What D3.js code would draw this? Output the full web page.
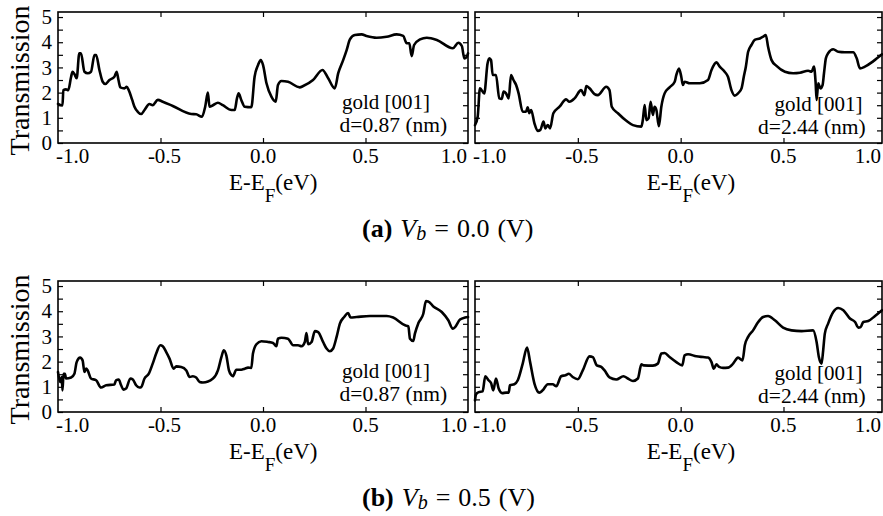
<!DOCTYPE html>
<html>
<head>
<meta charset="utf-8">
<script src="https://cdn.jsdelivr.net/npm/d3@7"></script>
<style>
html,body{margin:0;padding:0;background:#fff;}
svg{display:block;}
svg text{font-family:"Liberation Serif","DejaVu Serif","Times New Roman",serif;fill:#000;}
</style>
</head>
<body>
<svg id="chart" width="883" height="516"></svg>
<script>
// ---------------- DATA ----------------
const energyTicks = [-1.0, -0.5, 0.0, 0.5, 1.0];
const energyTickLabels = ["-1.0", "-0.5", "0.0", "0.5", "1.0"];
const transTicks = [0, 0.5, 1, 1.5, 2, 2.5, 3, 3.5, 4, 4.5, 5];
const transTickLabels = ["0", "", "1", "", "2", "", "3", "", "4", "", "5"];
const materialLabel = "gold [001]";
const distanceLabels = ["d=0.87 (nm)", "d=2.44 (nm)"];
const captionTags = ["(a)", "(b)"];
const biasValues = ["0.0", "0.5"];
const yTitle = "Transmission";

// Vb = 0.0 V, d = 0.87 nm  [E-EF (eV), T]
const t_vb0_d087 = [
[-1.0,1.55],[-0.985,1.5],[-0.978,1.5],[-0.974,2.1],[-0.961,2.13],[-0.950,2.1],[-0.936,2.63],[-0.929,2.83],
[-0.920,2.74],[-0.909,2.57],[-0.896,3.56],[-0.888,3.56],[-0.871,2.83],[-0.855,2.77],[-0.839,2.83],[-0.822,3.49],
[-0.814,3.49],[-0.798,2.9],[-0.782,2.43],[-0.769,2.34],[-0.749,2.5],[-0.725,2.63],[-0.714,2.83],[-0.705,2.5],
[-0.696,2.21],[-0.676,2.17],[-0.665,2.23],[-0.655,2.1],[-0.638,1.71],[-0.627,1.44],[-0.611,1.24],[-0.594,1.15],
[-0.578,1.31],[-0.554,1.55],[-0.538,1.5],[-0.513,1.71],[-0.489,1.64],[-0.440,1.47],[-0.350,1.15],[-0.326,1.14],
[-0.298,1.04],[-0.282,1.44],[-0.269,2.0],[-0.261,1.44],[-0.244,1.5],[-0.220,1.6],[-0.196,1.5],[-0.154,1.31],
[-0.138,1.31],[-0.127,1.77],[-0.119,1.97],[-0.106,1.71],[-0.089,1.44],[-0.057,1.42],[-0.041,2.63],[-0.024,3.1],
[-0.011,3.29],[0.0,3.1],[0.017,2.37],[0.041,1.84],[0.062,1.64],[0.073,2.3],[0.090,2.46],[0.122,2.43],
[0.179,2.21],[0.196,2.26],[0.244,2.5],[0.290,2.9],[0.318,2.57],[0.350,2.17],[0.367,2.77],[0.391,3.29],
[0.408,3.69],[0.424,4.11],[0.448,4.29],[0.481,4.31],[0.505,4.25],[0.554,4.18],[0.603,4.22],[0.652,4.31],
[0.684,4.25],[0.701,3.96],[0.714,3.96],[0.725,3.45],[0.737,3.89],[0.766,4.11],[0.799,4.18],[0.848,4.09],
[0.926,3.76],[0.953,3.98],[0.970,3.85],[0.982,3.36],[0.994,3.42],[1.0,3.56]
];

// Vb = 0.0 V, d = 2.44 nm
const t_vb0_d244 = [
[-1.0,0.71],[-0.987,1.04],[-0.976,2.17],[-0.955,1.97],[-0.939,3.16],[-0.930,3.36],[-0.922,3.29],[-0.914,2.7],
[-0.898,2.7],[-0.882,1.77],[-0.870,1.75],[-0.861,2.04],[-0.849,1.97],[-0.836,1.77],[-0.825,2.7],[-0.813,2.5],
[-0.800,2.3],[-0.788,1.97],[-0.768,1.24],[-0.752,1.24],[-0.744,1.42],[-0.736,1.18],[-0.727,1.31],[-0.711,0.78],
[-0.695,0.48],[-0.682,0.52],[-0.667,0.85],[-0.658,0.58],[-0.646,0.71],[-0.635,0.58],[-0.619,1.18],[-0.589,1.44],
[-0.557,1.73],[-0.541,1.64],[-0.516,1.77],[-0.484,2.1],[-0.468,1.9],[-0.459,2.26],[-0.443,2.17],[-0.419,1.94],
[-0.403,1.9],[-0.362,2.23],[-0.346,2.1],[-0.335,1.44],[-0.305,1.18],[-0.264,0.88],[-0.232,0.71],[-0.191,0.65],
[-0.184,0.91],[-0.175,1.51],[-0.167,0.91],[-0.156,0.98],[-0.146,1.64],[-0.135,1.11],[-0.127,1.44],[-0.118,1.31],
[-0.106,0.67],[-0.094,1.44],[-0.078,1.97],[-0.054,2.21],[-0.029,2.43],[-0.021,2.7],[-0.008,2.96],[0.003,2.63],
[0.011,2.3],[0.019,2.43],[0.044,2.37],[0.093,2.37],[0.133,2.5],[0.150,2.9],[0.174,3.2],[0.190,3.03],
[0.214,2.83],[0.230,2.63],[0.247,2.1],[0.263,1.88],[0.279,1.97],[0.296,2.17],[0.307,2.63],[0.317,3.03],
[0.328,3.62],[0.344,3.89],[0.360,4.09],[0.385,4.15],[0.401,4.22],[0.414,4.29],[0.425,3.82],[0.442,3.29],
[0.466,3.06],[0.507,2.83],[0.547,2.77],[0.580,2.79],[0.620,2.87],[0.637,2.83],[0.648,3.03],[0.656,2.43],
[0.661,1.71],[0.669,2.37],[0.680,2.17],[0.690,2.3],[0.697,2.77],[0.706,3.36],[0.717,3.56],[0.742,3.72],
[0.766,3.62],[0.799,3.6],[0.839,3.6],[0.856,3.36],[0.872,2.96],[0.896,3.03],[0.937,3.25],[0.979,3.52]
];

// Vb = 0.5 V, d = 0.87 nm
const t_vb5_d087 = [
[-1.0,1.59],[-0.989,1.19],[-0.982,1.39],[-0.978,0.86],[-0.973,1.52],[-0.966,1.52],[-0.961,1.33],[-0.936,1.37],
[-0.920,1.52],[-0.909,1.98],[-0.892,2.16],[-0.880,2.05],[-0.871,1.59],[-0.863,1.72],[-0.855,1.65],[-0.839,1.33],
[-0.814,1.26],[-0.790,0.97],[-0.765,1.06],[-0.725,1.09],[-0.717,1.26],[-0.704,1.29],[-0.692,1.06],[-0.681,0.89],
[-0.668,0.93],[-0.647,1.33],[-0.635,1.29],[-0.619,1.06],[-0.603,0.97],[-0.594,0.99],[-0.578,1.33],[-0.557,1.52],
[-0.538,1.92],[-0.521,2.32],[-0.501,2.65],[-0.489,2.61],[-0.472,2.38],[-0.456,2.12],[-0.436,1.72],[-0.423,1.81],
[-0.399,1.79],[-0.374,1.65],[-0.358,1.39],[-0.342,1.42],[-0.326,1.37],[-0.309,1.19],[-0.293,1.17],[-0.244,1.33],
[-0.220,1.65],[-0.203,2.18],[-0.191,2.45],[-0.179,2.25],[-0.166,1.65],[-0.154,1.46],[-0.147,1.42],[-0.130,1.68],
[-0.106,1.68],[-0.089,1.72],[-0.073,1.76],[-0.057,1.75],[-0.049,2.32],[-0.032,2.69],[-0.008,2.81],[0.024,2.78],
[0.049,2.74],[0.065,2.61],[0.073,2.91],[0.090,2.95],[0.122,2.91],[0.147,2.65],[0.171,2.65],[0.188,2.61],
[0.204,2.78],[0.212,3.13],[0.220,2.69],[0.237,2.78],[0.253,3.21],[0.269,3.17],[0.293,2.78],[0.310,2.52],
[0.326,2.41],[0.342,2.52],[0.359,2.98],[0.375,3.51],[0.396,3.77],[0.415,3.93],[0.427,3.75],[0.457,3.77],
[0.522,3.81],[0.603,3.81],[0.635,3.75],[0.693,3.44],[0.709,3.4],[0.717,2.91],[0.733,2.82],[0.741,3.11],
[0.758,3.53],[0.782,3.9],[0.795,4.4],[0.806,4.39],[0.831,4.19],[0.872,3.97],[0.904,3.64],[0.926,3.31],
[0.937,3.37],[0.961,3.67],[0.986,3.75],[1.0,3.77]
];

// Vb = 0.5 V, d = 2.44 nm
const t_vb5_d244 = [
[-1.0,0.46],[-0.995,0.7],[-0.982,0.79],[-0.963,0.82],[-0.950,1.42],[-0.934,1.26],[-0.922,1.15],[-0.911,0.86],
[-0.898,1.33],[-0.885,0.93],[-0.868,0.75],[-0.849,0.77],[-0.836,0.77],[-0.830,1.06],[-0.809,1.1],[-0.792,1.26],
[-0.768,1.92],[-0.747,2.56],[-0.732,1.98],[-0.711,1.13],[-0.687,0.77],[-0.671,0.86],[-0.646,1.1],[-0.622,1.1],
[-0.605,1.02],[-0.581,1.42],[-0.560,1.46],[-0.544,1.52],[-0.525,1.39],[-0.500,1.3],[-0.476,1.65],[-0.443,2.21],
[-0.427,2.18],[-0.408,1.85],[-0.386,1.79],[-0.370,1.65],[-0.346,1.37],[-0.313,1.29],[-0.278,1.42],[-0.257,1.33],
[-0.232,1.23],[-0.208,1.33],[-0.191,1.89],[-0.180,1.85],[-0.135,1.84],[-0.111,1.92],[-0.094,2.32],[-0.078,2.34],
[-0.054,2.18],[-0.021,1.98],[0.008,1.85],[0.019,2.25],[0.036,2.29],[0.076,2.21],[0.109,2.18],[0.133,2.16],
[0.150,1.98],[0.161,1.72],[0.174,1.89],[0.187,1.79],[0.206,1.75],[0.230,1.76],[0.255,1.92],[0.279,2.16],
[0.301,2.05],[0.312,2.65],[0.328,2.98],[0.352,3.24],[0.377,3.57],[0.401,3.77],[0.425,3.81],[0.458,3.64],
[0.498,3.35],[0.539,3.24],[0.588,3.21],[0.644,3.24],[0.661,2.78],[0.672,2.18],[0.685,1.92],[0.693,2.45],
[0.701,3.11],[0.717,3.51],[0.742,3.97],[0.766,4.13],[0.791,4.04],[0.823,3.71],[0.848,3.57],[0.864,3.35],
[0.875,3.37],[0.888,3.57],[0.912,3.61],[0.945,3.81],[0.979,4.04]
];

// ---------------- LAYOUT ----------------
const FONT = "Liberation Serif, DejaVu Serif, serif";
const svg = d3.select("#chart");
const rows = [{top: 12, bottom: 143}, {top: 281, bottom: 412}];
const cols = [
  {left: 58, right: 468, domain: [-1.0, 1.0]},
  {left: 475, right: 882, domain: [-1.0, 0.979]}
];
const panels = [
  {row: 0, col: 0, data: t_vb0_d087, dist: 0},
  {row: 0, col: 1, data: t_vb0_d244, dist: 1},
  {row: 1, col: 0, data: t_vb5_d087, dist: 0},
  {row: 1, col: 1, data: t_vb5_d244, dist: 1}
];
const tick = 5;

panels.forEach(p => {
  const R = rows[p.row], C = cols[p.col];
  const x = d3.scaleLinear().domain(C.domain).range([C.left, C.right]);
  const y = d3.scaleLinear().domain([0, 5.2]).range([R.bottom, R.top]);
  const g = svg.append("g").attr("font-family", FONT);

  const inDom = energyTicks.filter(t => t > C.domain[0] && t < C.domain[1]);

  const ab = g.append("g").attr("transform", `translate(0,${R.bottom})`)
    .call(d3.axisBottom(x).tickValues(inDom).tickSize(-tick).tickFormat(() => ""));
  const at = g.append("g").attr("transform", `translate(0,${R.top})`)
    .call(d3.axisTop(x).tickValues(inDom).tickSize(-tick).tickFormat(() => ""));
  const al = g.append("g").attr("transform", `translate(${C.left},0)`)
    .call(d3.axisLeft(y).tickValues(transTicks).tickSize(-tick).tickPadding(6)
      .tickFormat((d, i) => p.col === 0 ? transTickLabels[i] : ""));
  const ar = g.append("g").attr("transform", `translate(${C.right},0)`)
    .call(d3.axisRight(y).tickValues(transTicks).tickSize(-tick).tickFormat(() => ""));
  [ab, at, al, ar].forEach(a => {
    a.attr("font-family", FONT);
    a.select(".domain").remove();
    a.selectAll(".tick line").attr("stroke", "#000").attr("stroke-width", 1.2);
  });
  al.selectAll("text").attr("font-size", 21).attr("font-family", FONT).attr("fill", "#000");

  g.append("g").selectAll("text").data(energyTicks).join("text")
    .attr("font-size", 21).attr("font-family", FONT)
    .attr("y", R.bottom + 20)
    .attr("x", d => {
      if (d <= C.domain[0]) return C.left - 2;
      if (d >= C.domain[1]) return C.right - 1;
      return x(d) + (d < 0 ? 4 : 0);
    })
    .attr("text-anchor", d => d <= C.domain[0] ? "start" : (d >= C.domain[1] ? "end" : "middle"))
    .text((d, i) => energyTickLabels[i]);

  g.append("path").datum(p.data)
    .attr("fill", "none").attr("stroke", "#000").attr("stroke-width", 2.6)
    .attr("stroke-linejoin", "round").attr("stroke-linecap", "round")
    .attr("d", d3.line().x(d => x(d[0])).y(d => y(d[1])).curve(d3.curveMonotoneX));

  g.append("rect").attr("x", C.left).attr("y", R.top)
    .attr("width", C.right - C.left).attr("height", R.bottom - R.top)
    .attr("fill", "none").attr("stroke", "#000").attr("stroke-width", 1.6);

  const ax1 = p.col === 0 ? C.right - 126 : C.right - 107.5;
  const ax2 = p.col === 0 ? C.right - 128.5 : C.right - 124;
  const ay1 = p.col === 0 ? R.top + 97 : R.top + 99;
  const ay2 = p.col === 0 ? R.top + 119.5 : R.top + 122;
  g.append("text").attr("x", ax1).attr("y", ay1).attr("font-size", 21).attr("font-family", FONT).text(materialLabel);
  g.append("text").attr("x", ax2).attr("y", ay2).attr("font-size", 21.5).attr("font-family", FONT).text(distanceLabels[p.dist]);

  const xt = g.append("text").attr("x", x(0) - 34).attr("y", R.bottom + 47).attr("font-size", 23).attr("font-family", FONT);
  xt.append("tspan").text("E-E");
  xt.append("tspan").attr("dy", 12).attr("font-size", 19).text("F");
  xt.append("tspan").attr("dy", -12).text("(eV)");

  if (p.col === 0) {
    svg.append("text")
      .attr("transform", `translate(29,${(R.top + R.bottom) / 2 + 3}) rotate(-90)`)
      .attr("text-anchor", "middle").attr("font-size", 28).attr("font-family", FONT).text(yTitle);
  }
});

rows.forEach((R, i) => {
  const c = svg.append("text").attr("x", 362).attr("y", R.bottom + 94).attr("font-size", 26)
    .attr("font-family", FONT).attr("word-spacing", 1.5);
  c.append("tspan").attr("font-weight", "bold").text(captionTags[i]);
  c.append("tspan").text(" ");
  c.append("tspan").attr("font-style", "italic").text("V");
  c.append("tspan").attr("font-style", "italic").attr("font-size", 20).attr("dy", 3).text("b");
  c.append("tspan").attr("dy", -3).text(" = " + biasValues[i] + " (V)");
});
</script>
</body>
</html>
